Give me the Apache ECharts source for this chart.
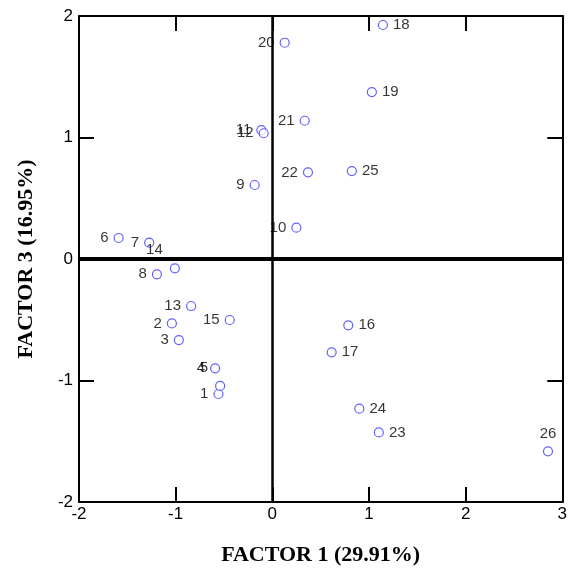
<!DOCTYPE html>
<html>
<head>
<meta charset="utf-8">
<script src="https://cdn.jsdelivr.net/npm/echarts@6/dist/echarts.min.js"></script>
<style>
  html, body { margin: 0; padding: 0; background: #fff; }
  #chart { width: 570px; height: 574px; }
</style>
</head>
<body>
<div id="chart"></div>
<script>
// sample numbers, factor 1 scores, factor 3 scores
var sampleIds = ['1', '2', '3', '4', '5', '6', '7', '8', '9', '10', '11', '12', '13',
  '14', '15', '16', '17', '18', '19', '20', '21', '22', '23', '24', '25', '26'];
var factor1 = [-0.557, -1.039, -0.967, -0.592, -0.54, -1.59, -1.274, -1.194, -0.182, 0.249, -0.113, -0.089, -0.84,
  -1.008, -0.44, 0.786, 0.614, 1.144, 1.03, 0.128, 0.335, 0.369, 1.102, 0.9, 0.823, 2.852];
var factor3 = [-1.111, -0.53, -0.667, -0.9, -1.045, 0.173, 0.134, -0.126, 0.609, 0.258, 1.06, 1.035, -0.387,
  -0.077, -0.502, -0.546, -0.768, 1.926, 1.374, 1.78, 1.138, 0.713, -1.427, -1.232, 0.724, -1.583];
var xTitle = 'FACTOR 1 (29.91%)';
var yTitle = 'FACTOR 3 (16.95%)';

// where each point's number sits
var onRight = ['16', '17', '18', '19', '23', '24', '25'];
var onTop = ['26'];
// nudges for crowded labels
var nudge = { '14': [-2, -18], '5': [-2, -18] };

var pts = sampleIds.map(function (id, i) {
  var pos = onTop.indexOf(id) >= 0 ? 'top' : (onRight.indexOf(id) >= 0 ? 'right' : 'left');
  return {
    value: [factor1[i], factor3[i]],
    name: id,
    label: { position: pos, distance: 5 }
  };
});

var chart = echarts.init(document.getElementById('chart'));

var tickLine = { show: true, onZero: false, lineStyle: { color: '#000', width: 2 } };
var tick = { show: true, inside: true, length: 15, lineStyle: { color: '#000', width: 2 } };
var labFont = { color: '#000', fontSize: 17, fontFamily: 'Liberation Sans, Arial, sans-serif' };
var nameFont = { color: '#000', fontSize: 22, fontWeight: 'bold', fontFamily: 'Liberation Serif, Times New Roman, serif' };

chart.setOption({
  animation: false,
  grid: { left: 79, right: 7, top: 16, bottom: 72 },
  xAxis: [{
    type: 'value', min: -2, max: 3, interval: 1, position: 'bottom',
    axisLine: tickLine, axisTick: tick, splitLine: { show: false },
    axisLabel: Object.assign({ margin: 4 }, labFont),
    name: xTitle, nameLocation: 'middle', nameGap: 42, nameTextStyle: nameFont
  }, {
    type: 'value', min: -2, max: 3, interval: 1, position: 'top',
    axisLine: tickLine, axisTick: tick, splitLine: { show: false },
    axisLabel: { show: false }
  }],
  yAxis: [{
    type: 'value', min: -2, max: 2, interval: 1, position: 'left',
    axisLine: tickLine, axisTick: tick, splitLine: { show: false },
    axisLabel: Object.assign({ margin: 6 }, labFont),
    name: yTitle, nameLocation: 'middle', nameGap: 42, nameTextStyle: nameFont
  }, {
    type: 'value', min: -2, max: 2, interval: 1, position: 'right',
    axisLine: tickLine, axisTick: tick, splitLine: { show: false },
    axisLabel: { show: false }
  }],
  series: [{
    type: 'scatter',
    data: pts,
    symbol: 'circle',
    symbolSize: 9,
    itemStyle: { color: '#fff', borderColor: '#3a3aff', borderWidth: 1.2 },
    label: {
      show: true,
      formatter: '{b}',
      color: '#000',
      fontSize: 15,
      fontFamily: 'Liberation Sans, Arial, sans-serif'
    },
    labelLayout: function (p) {
      var n = nudge[sampleIds[p.dataIndex]];
      return n ? { dx: n[0], dy: n[1], hideOverlap: false } : { hideOverlap: false };
    },
    markLine: {
      silent: true,
      symbol: 'none',
      label: { show: false },
      data: [
        { yAxis: 0, lineStyle: { color: '#000', width: 4, type: 'solid' } },
        { xAxis: 0, lineStyle: { color: '#000', width: 2.5, type: 'solid' } }
      ]
    },
    z: 3
  }]
});
</script>
</body>
</html>
